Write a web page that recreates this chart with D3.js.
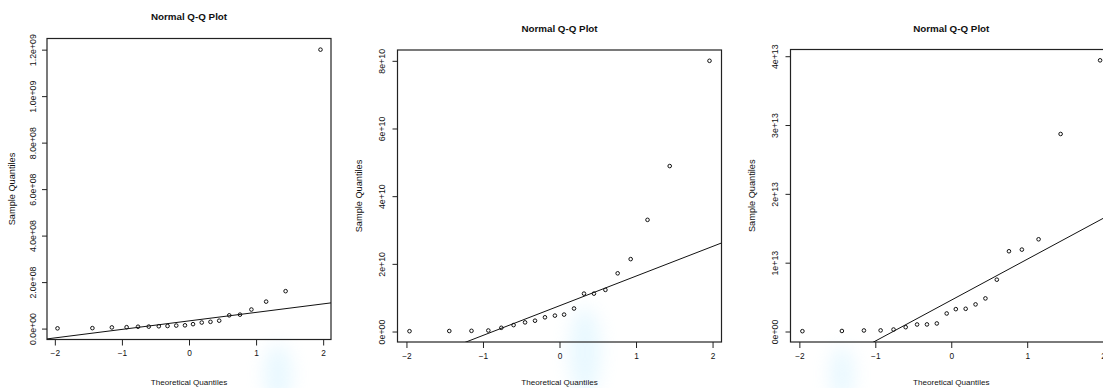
<!DOCTYPE html>
<html>
<head>
<meta charset="utf-8">
<script src="https://cdn.jsdelivr.net/npm/d3@7"></script>
<style>
  body { margin: 0; background: #fff; }
  svg { display: block; font-family: "Liberation Sans", Arial, sans-serif; }
  .tick line { stroke: #222; }
</style>
</head>
<body>
<svg id="chart" width="1103" height="388"></svg>
<script>
// theoretical quantiles (n = 20), same for all three plots
const THEORETICAL = [-1.96, -1.44, -1.15, -0.93, -0.76, -0.60, -0.45, -0.32, -0.19, -0.06,
                     0.06, 0.19, 0.32, 0.45, 0.60, 0.76, 0.93, 1.15, 1.44, 1.96];
const X_TICKS = [-2, -1, 0, 1, 2];
const Z_QUARTILE = 0.6745;

// sample quantiles
const SAMPLE_1 = [1e6, 2e6, 5e6, 6e6, 8e6, 8.5e6, 1.0e7, 1.1e7, 1.3e7, 1.4e7,
                  1.9e7, 2.6e7, 2.9e7, 3.4e7, 5.7e7, 6.0e7, 8.2e7, 1.16e8, 1.61e8, 1.2e9];
const SAMPLE_2 = [1e8, 1.5e8, 2e8, 3e8, 1.1e9, 1.9e9, 2.7e9, 3.2e9, 4.2e9, 4.7e9,
                  5.0e9, 6.8e9, 1.12e10, 1.12e10, 1.23e10, 1.72e10, 2.14e10, 3.30e10, 4.89e10, 8.0e10];
const SAMPLE_3 = [5e10, 8e10, 1.5e11, 1.6e11, 2.9e11, 6.3e11, 1.02e12, 1.03e12, 1.17e12, 2.62e12,
                  3.25e12, 3.3e12, 3.94e12, 4.81e12, 7.53e12, 1.166e13, 1.19e13, 1.34e13, 2.87e13, 3.94e13];

const Y_TICKS_1 = [0, 2e8, 4e8, 6e8, 8e8, 1e9, 1.2e9];
const Y_LABELS_1 = ['0.0e+00', '2.0e+08', '4.0e+08', '6.0e+08', '8.0e+08', '1.0e+09', '1.2e+09'];
const Y_TICKS_2 = [0, 2e10, 4e10, 6e10, 8e10];
const Y_LABELS_2 = ['0e+00', '2e+10', '4e+10', '6e+10', '8e+10'];
const Y_TICKS_3 = [0, 1e13, 2e13, 3e13, 4e13];
const Y_LABELS_3 = ['0e+00', '1e+13', '2e+13', '3e+13', '4e+13'];

const TITLE = 'Normal Q-Q Plot';
const X_TITLE = 'Theoretical Quantiles';
const Y_TITLE = 'Sample Quantiles';

const svg = d3.select('#chart');

// faint watermark in the background
const defs = svg.append('defs');
defs.append('filter').attr('id', 'blur').append('feGaussianBlur').attr('stdDeviation', 9);
const wm = svg.append('g').attr('filter', 'url(#blur)').attr('fill', '#c8eeff').attr('opacity', 0.4);
wm.append('ellipse').attr('cx', 585).attr('cy', 352).attr('rx', 16).attr('ry', 45);
wm.append('ellipse').attr('cx', 278).attr('cy', 374).attr('rx', 14).attr('ry', 30);
wm.append('ellipse').attr('cx', 842).attr('cy', 374).attr('rx', 12).attr('ry', 28);

// R style padding: 4% of data range on each side
function padded(ext) {
  const d = (ext[1] - ext[0]) * 0.04;
  return [ext[0] - d, ext[1] + d];
}

function qqPanel(p) {
  const x = d3.scaleLinear().domain(padded(d3.extent(THEORETICAL))).range([p.left, p.right]);
  const y = d3.scaleLinear().domain(padded(d3.extent(p.sample))).range([p.bottom, p.top]);
  const g = svg.append('g');

  const clipId = 'clip' + p.id;
  defs.append('clipPath').attr('id', clipId).append('rect')
    .attr('x', p.left).attr('y', p.top)
    .attr('width', p.right - p.left).attr('height', p.bottom - p.top);

  // x axis
  const xa = g.append('g').attr('transform', `translate(0,${p.bottom})`)
    .call(d3.axisBottom(x).tickValues(X_TICKS).tickSize(6).tickPadding(5).tickFormat(d3.format('d')));
  xa.select('.domain').remove();
  xa.selectAll('text').attr('font-size', 8.3).attr('fill', '#111');

  // y axis, labels parallel to the axis
  const ya = g.append('g').attr('transform', `translate(${p.left},0)`)
    .call(d3.axisLeft(y).tickValues(p.yTicks).tickSize(5).tickFormat((d, i) => p.yLabels[i]));
  ya.select('.domain').remove();
  ya.selectAll('text')
    .attr('transform', 'rotate(-90)')
    .attr('x', 0).attr('y', -p.labelOff).attr('dy', '0.35em')
    .attr('text-anchor', 'middle')
    .attr('font-size', 8.8).attr('fill', '#111');

  // box
  g.append('rect')
    .attr('x', p.left).attr('y', p.top)
    .attr('width', p.right - p.left).attr('height', p.bottom - p.top)
    .attr('fill', 'none').attr('stroke', '#222').attr('stroke-width', 1.2);

  // qq line through the quartiles
  const sorted = p.sample.slice().sort(d3.ascending);
  const q1 = d3.quantile(sorted, 0.25), q3 = d3.quantile(sorted, 0.75);
  const slope = (q3 - q1) / (2 * Z_QUARTILE);
  const icpt = q1 + slope * Z_QUARTILE;
  const xd = x.domain();
  g.append('line')
    .attr('clip-path', `url(#${clipId})`)
    .attr('x1', x(xd[0])).attr('y1', y(icpt + slope * xd[0]))
    .attr('x2', x(xd[1])).attr('y2', y(icpt + slope * xd[1]))
    .attr('stroke', '#111').attr('stroke-width', 1);

  // points
  g.append('g').selectAll('circle')
    .data(p.sample)
    .enter().append('circle')
      .attr('cx', (d, i) => x(THEORETICAL[i]))
      .attr('cy', d => y(d))
      .attr('r', 1.8)
      .attr('fill', 'none')
      .attr('stroke', '#111')
      .attr('stroke-width', 1);

  // titles
  g.append('text')
    .attr('x', (p.left + p.right) / 2).attr('y', p.titleY)
    .attr('text-anchor', 'middle').attr('font-size', 9.8).attr('font-weight', 'bold')
    .attr('fill', '#111').text(TITLE);
  g.append('text')
    .attr('x', (p.left + p.right) / 2).attr('y', 385)
    .attr('text-anchor', 'middle').attr('font-size', 8.1)
    .attr('fill', '#111').text(X_TITLE);
  g.append('text')
    .attr('transform', `translate(${p.left - p.yTitleOff},${(p.top + p.bottom) / 2}) rotate(-90)`)
    .attr('text-anchor', 'middle').attr('dy', '0.35em').attr('font-size', 9.2)
    .attr('fill', '#111').text(Y_TITLE);
}

qqPanel({ id: 1, sample: SAMPLE_1, yTicks: Y_TICKS_1, yLabels: Y_LABELS_1,
          left: 47, right: 331, top: 38.5, bottom: 339.5, titleY: 20, labelOff: 14.5, yTitleOff: 35 });
qqPanel({ id: 2, sample: SAMPLE_2, yTicks: Y_TICKS_2, yLabels: Y_LABELS_2,
          left: 397.5, right: 721.5, top: 50, bottom: 342, titleY: 32, labelOff: 16, yTitleOff: 39 });
qqPanel({ id: 3, sample: SAMPLE_3, yTicks: Y_TICKS_3, yLabels: Y_LABELS_3,
          left: 790.5, right: 1112, top: 49.5, bottom: 342, titleY: 32, labelOff: 16, yTitleOff: 39 });
</script>
</body>
</html>
